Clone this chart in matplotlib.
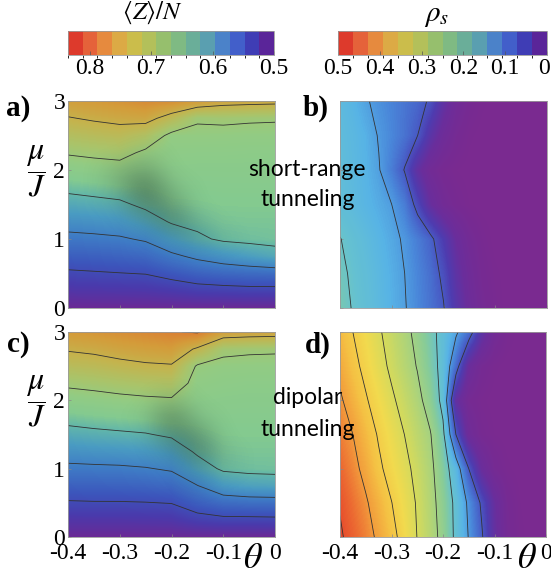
import numpy as np
import matplotlib
matplotlib.use("Agg")
import matplotlib.pyplot as plt
import matplotlib.transforms as mtransforms
from matplotlib.colors import ListedColormap, LinearSegmentedColormap, BoundaryNorm, Normalize
from matplotlib.cm import ScalarMappable

plt.rcParams["font.family"] = "serif"
plt.rcParams["font.serif"] = ["Liberation Serif", "DejaVu Serif"]
plt.rcParams["mathtext.fontset"] = "stix"
SERIF = ["Liberation Serif", "DejaVu Serif"]

# ---------------- data ----------------
# <Z>/N on a (theta, mu/J) grid, rows = mu/J, columns = theta
theta_z = [-0.4, -0.35, -0.3, -0.25, -0.2, -0.15, -0.1, -0.05, 0.0]
mu_z = [0.0, 0.25, 0.5, 0.75, 1.0, 1.25, 1.5, 1.75, 2.0, 2.25, 2.5, 2.75, 3.0]

z_short = [
    [0.500, 0.500, 0.500, 0.500, 0.500, 0.500, 0.500, 0.500, 0.500],
    [0.523, 0.524, 0.525, 0.526, 0.530, 0.536, 0.538, 0.540, 0.540],
    [0.545, 0.547, 0.549, 0.551, 0.561, 0.571, 0.577, 0.580, 0.582],
    [0.568, 0.570, 0.573, 0.577, 0.593, 0.607, 0.618, 0.627, 0.636],
    [0.591, 0.593, 0.596, 0.604, 0.626, 0.644, 0.655, 0.658, 0.660],
    [0.613, 0.616, 0.620, 0.634, 0.653, 0.658, 0.663, 0.664, 0.664],
    [0.636, 0.640, 0.644, 0.657, 0.665, 0.666, 0.668, 0.668, 0.668],
    [0.658, 0.662, 0.666, 0.668, 0.672, 0.672, 0.673, 0.673, 0.673],
    [0.680, 0.684, 0.687, 0.680, 0.678, 0.677, 0.677, 0.677, 0.677],
    [0.703, 0.707, 0.710, 0.694, 0.684, 0.683, 0.683, 0.682, 0.682],
    [0.725, 0.730, 0.734, 0.722, 0.692, 0.692, 0.691, 0.690, 0.690],
    [0.748, 0.754, 0.759, 0.762, 0.735, 0.704, 0.706, 0.704, 0.703],
    [0.771, 0.776, 0.782, 0.790, 0.788, 0.776, 0.765, 0.762, 0.760],
]

z_dipolar = [
    [0.500, 0.500, 0.500, 0.500, 0.500, 0.500, 0.500, 0.500, 0.500],
    [0.524, 0.524, 0.524, 0.525, 0.526, 0.537, 0.542, 0.542, 0.543],
    [0.547, 0.548, 0.548, 0.549, 0.551, 0.569, 0.581, 0.584, 0.585],
    [0.570, 0.571, 0.572, 0.574, 0.578, 0.599, 0.623, 0.630, 0.632],
    [0.593, 0.594, 0.595, 0.598, 0.604, 0.634, 0.655, 0.658, 0.659],
    [0.615, 0.618, 0.620, 0.623, 0.630, 0.655, 0.663, 0.664, 0.664],
    [0.638, 0.642, 0.645, 0.648, 0.655, 0.664, 0.668, 0.668, 0.668],
    [0.661, 0.665, 0.668, 0.671, 0.675, 0.672, 0.673, 0.673, 0.673],
    [0.684, 0.687, 0.691, 0.694, 0.696, 0.680, 0.678, 0.677, 0.677],
    [0.706, 0.710, 0.715, 0.719, 0.721, 0.688, 0.684, 0.682, 0.682],
    [0.730, 0.734, 0.740, 0.745, 0.747, 0.696, 0.691, 0.690, 0.690],
    [0.753, 0.757, 0.764, 0.769, 0.773, 0.745, 0.708, 0.705, 0.704],
    [0.776, 0.781, 0.787, 0.792, 0.798, 0.803, 0.772, 0.768, 0.766],
]

# dark rendering shade along the plateau edge of the <Z>/N maps (opacity, same grid)
shade_short = [
    [0, 0, 0, 0, 0, 0, 0, 0, 0],
    [0, 0, 0, 0, 0, 0, 0, 0, 0],
    [0, 0, 0, 0, 0, 0, 0, 0, 0],
    [0, 0, 0, 0, 0, 0, 0, 0, 0],
    [0, 0, 0, 0, 0.05, 0.12, 0.04, 0, 0],
    [0, 0, 0, 0.08, 0.30, 0.08, 0, 0, 0],
    [0, 0, 0.04, 0.32, 0.22, 0, 0, 0, 0],
    [0, 0, 0.12, 0.40, 0.08, 0, 0, 0, 0],
    [0, 0, 0.12, 0.20, 0, 0, 0, 0, 0],
    [0, 0, 0, 0.04, 0, 0, 0, 0, 0],
    [0, 0, 0, 0, 0, 0, 0, 0, 0],
    [0, 0, 0, 0, 0, 0, 0, 0, 0],
    [0, 0, 0, 0, 0, 0, 0, 0, 0],
]

shade_dipolar = [
    [0, 0, 0, 0, 0, 0, 0, 0, 0],
    [0, 0, 0, 0, 0, 0, 0, 0, 0],
    [0, 0, 0, 0, 0, 0, 0, 0, 0],
    [0, 0, 0, 0, 0, 0.04, 0, 0, 0],
    [0, 0, 0, 0, 0, 0.12, 0.05, 0, 0],
    [0, 0, 0, 0, 0.10, 0.32, 0.05, 0, 0],
    [0, 0, 0, 0, 0.28, 0.25, 0, 0, 0],
    [0, 0, 0, 0.03, 0.32, 0.06, 0, 0, 0],
    [0, 0, 0, 0, 0.12, 0, 0, 0, 0],
    [0, 0, 0, 0, 0, 0, 0, 0, 0],
    [0, 0, 0, 0, 0, 0, 0, 0, 0],
    [0, 0, 0, 0, 0, 0, 0, 0, 0],
    [0, 0, 0, 0, 0, 0, 0, 0, 0],
]

# superfluid density rho_s, rows = mu/J, columns = theta
theta_r = [-0.4, -0.375, -0.35, -0.325, -0.3, -0.275, -0.25, -0.225, -0.2,
           -0.175, -0.15, -0.125, -0.1, -0.075, -0.05, -0.025, 0.0]
mu_r = [0.0, 0.5, 1.0, 1.5, 2.0, 2.5, 3.0]

rho_short = [
    [0.212, 0.198, 0.188, 0.176, 0.164, 0.152, 0.136, 0.120, 0.102, 0.065, 0.035, 0.015, 0.005, 0, 0, 0, 0],
    [0.207, 0.195, 0.185, 0.174, 0.162, 0.150, 0.134, 0.117, 0.092, 0.055, 0.028, 0.010, 0.003, 0, 0, 0, 0],
    [0.201, 0.190, 0.180, 0.169, 0.158, 0.146, 0.128, 0.108, 0.075, 0.040, 0.018, 0.006, 0, 0, 0, 0, 0],
    [0.185, 0.178, 0.169, 0.160, 0.150, 0.128, 0.088, 0.045, 0.020, 0.008, 0.002, 0, 0, 0, 0, 0, 0],
    [0.185, 0.176, 0.166, 0.152, 0.128, 0.098, 0.050, 0.020, 0.007, 0.002, 0, 0, 0, 0, 0, 0, 0],
    [0.182, 0.174, 0.164, 0.148, 0.135, 0.120, 0.100, 0.060, 0.030, 0.012, 0.003, 0, 0, 0, 0, 0, 0],
    [0.178, 0.168, 0.153, 0.142, 0.132, 0.122, 0.112, 0.095, 0.055, 0.025, 0.010, 0.003, 0, 0, 0, 0, 0],
]

rho_dipolar = [
    [0.455, 0.436, 0.416, 0.392, 0.364, 0.333, 0.299, 0.270, 0.236, 0.191, 0.148, 0.105, 0.050, 0.015, 0.003, 0, 0],
    [0.447, 0.426, 0.405, 0.379, 0.351, 0.324, 0.296, 0.266, 0.231, 0.190, 0.142, 0.094, 0.045, 0.012, 0.002, 0, 0],
    [0.433, 0.412, 0.388, 0.358, 0.334, 0.312, 0.288, 0.261, 0.222, 0.174, 0.100, 0.040, 0.012, 0.003, 0, 0, 0],
    [0.418, 0.400, 0.373, 0.346, 0.323, 0.300, 0.276, 0.253, 0.209, 0.100, 0.030, 0.008, 0.002, 0, 0, 0, 0],
    [0.406, 0.380, 0.354, 0.331, 0.307, 0.285, 0.262, 0.232, 0.188, 0.050, 0.012, 0.003, 0, 0, 0, 0, 0],
    [0.388, 0.362, 0.339, 0.315, 0.292, 0.270, 0.248, 0.219, 0.186, 0.117, 0.040, 0.012, 0.003, 0, 0, 0, 0],
    [0.372, 0.350, 0.328, 0.305, 0.284, 0.262, 0.239, 0.213, 0.186, 0.156, 0.119, 0.060, 0.020, 0.005, 0, 0, 0],
]

z_levels = [0.55, 0.60, 0.65, 0.70, 0.75, 0.80]
rho_levels = [0.10, 0.15, 0.20, 0.25, 0.30, 0.35, 0.40, 0.45]

theta_ticks = [-0.4, -0.3, -0.2, -0.1, 0.0]
theta_ticklabels = ["-0.4", "-0.3", "-0.2", "-0.1", "0"]
mu_ticks = [0, 1, 2, 3]
z_cbar_ticks = [0.8, 0.7, 0.6, 0.5]
z_cbar_ticklabels = ["0.8", "0.7", "0.6", "0.5"]
rho_cbar_ticks = [0.5, 0.4, 0.3, 0.2, 0.1, 0.0]
rho_cbar_ticklabels = ["0.5", "0.4", "0.3", "0.2", "0.1", "0"]

# ---------------- colours ----------------
# legend palette, red (high) -> purple (low)
bar_colors = ["#dd3a2c", "#e5623a", "#e68a3e", "#dcaa45", "#cbbd4b", "#b3c05a", "#96bf6d",
              "#7fba83", "#6aae99", "#5a9fb0", "#4b82c9", "#425fca", "#3f3db5", "#5a2599"]
bar_cmap = ListedColormap(bar_colors[::-1])

z_lo, z_hi = 0.5, 0.835
r_lo, r_hi = 0.0, 0.5

# shading used for the <Z>/N maps (value, colour)
z_stops = [(0.500, "#6a2a96"), (0.530, "#4a3aac"), (0.560, "#3c56bc"), (0.595, "#3f7cc6"),
           (0.625, "#4a9cc2"), (0.650, "#62b6aa"), (0.668, "#84ca90"), (0.690, "#92cc84"),
           (0.715, "#aac46a"), (0.745, "#c4b44e"), (0.775, "#d49c3a"), (0.805, "#dc7a32"),
           (0.835, "#de4a2c")]
# shading used for the rho_s maps (value, colour)
r_stops = [(0.000, "#7a2a90"), (0.040, "#6a2e9c"), (0.075, "#4e3cb0"), (0.105, "#4860c8"),
           (0.135, "#4a88da"), (0.165, "#58b4e6"), (0.195, "#66c2d0"), (0.225, "#88cc98"),
           (0.260, "#aed47a"), (0.295, "#d2da5e"), (0.330, "#f2da4e"), (0.365, "#f5c244"),
           (0.400, "#f29c3c"), (0.430, "#ec6a32"), (0.455, "#e6482c"), (0.500, "#e03a2a")]


def stops_cmap(name, stops, lo, hi):
    return LinearSegmentedColormap.from_list(
        name, [((v - lo) / (hi - lo), c) for v, c in stops])


z_cmap = stops_cmap("zmap", z_stops, z_lo, z_hi)
r_cmap = stops_cmap("rmap", r_stops, r_lo, r_hi)
shade_cmap = LinearSegmentedColormap.from_list("shade", [(0, 0, 0, 0), (0.05, 0.08, 0.05, 1)])

# ---------------- layout ----------------
W, H = 551, 577
fig = plt.figure(figsize=(W / 100, H / 100), dpi=100)


def box(x0, y0, x1, y1):
    return [x0 / W, 1 - y1 / H, (x1 - x0) / W, (y1 - y0) / H]


ax_a = fig.add_axes(box(68, 101, 275, 308))
ax_b = fig.add_axes(box(340, 101, 547, 308))
ax_c = fig.add_axes(box(68, 332, 275, 537))
ax_d = fig.add_axes(box(340, 332, 546, 537))
cax_z = fig.add_axes(box(68, 31, 274, 55))
cax_r = fig.add_axes(box(338, 31, 547, 55))


def style_labels(ax, size):
    for t in ax.get_xticklabels() + ax.get_yticklabels():
        t.set_fontfamily(SERIF)
        t.set_fontsize(size)


def grid_extent(th, mu):
    dth = th[1] - th[0]
    dmu = mu[1] - mu[0]
    return [th[0] - dth / 2, th[-1] + dth / 2, mu[0] - dmu / 2, mu[-1] + dmu / 2]


def draw_field(ax, th, mu, field, cmap, norm, levels, shade=None):
    th = np.asarray(th, float)
    mu = np.asarray(mu, float)
    F = np.asarray(field, float)
    ext = grid_extent(th, mu)
    ax.imshow(F, origin="lower", cmap=cmap, norm=norm, interpolation="bilinear",
              extent=ext, aspect="auto")
    if shade is not None:
        ax.imshow(np.asarray(shade, float), origin="lower", cmap=shade_cmap,
                  norm=Normalize(0, 1), interpolation="bicubic", extent=ext, aspect="auto")
    ax.contour(th, mu, F, levels=levels, colors="#333333", linewidths=0.6)
    ax.set_xlim(-0.4, 0.0)
    ax.set_ylim(0, 3)
    for s in ax.spines.values():
        s.set_color("#9a9a9a")
        s.set_linewidth(0.6)
    ax.tick_params(direction="in", length=2, width=0.5, color="#888888", pad=3)
    ax.set_xticks(theta_ticks)
    ax.set_yticks(mu_ticks)


znorm = Normalize(z_lo, z_hi)
rnorm = Normalize(r_lo, r_hi)
draw_field(ax_a, theta_z, mu_z, z_short, z_cmap, znorm, z_levels, shade_short)
draw_field(ax_c, theta_z, mu_z, z_dipolar, z_cmap, znorm, z_levels, shade_dipolar)
draw_field(ax_b, theta_r, mu_r, rho_short, r_cmap, rnorm, rho_levels)
draw_field(ax_d, theta_r, mu_r, rho_dipolar, r_cmap, rnorm, rho_levels)

for ax in (ax_a, ax_b):
    ax.set_xticklabels([])
for ax in (ax_b, ax_d):
    ax.set_yticklabels([])
for ax in (ax_c, ax_d):
    ax.set_xticklabels(theta_ticklabels)
    ax.tick_params(axis="x", pad=4)
for ax in (ax_a, ax_c):
    ax.set_yticklabels([str(t) for t in mu_ticks])
    ax.tick_params(axis="y", pad=2)
for ax in (ax_a, ax_b, ax_c, ax_d):
    style_labels(ax, 17)

# ---------------- colour legends ----------------
def draw_bar(cax, lo, hi, ticks, labels):
    bounds = np.linspace(lo, hi, len(bar_colors) + 1)
    sm = ScalarMappable(norm=BoundaryNorm(bounds, len(bar_colors)), cmap=bar_cmap)
    cb = fig.colorbar(sm, cax=cax, orientation="horizontal")
    cax.invert_xaxis()
    cb.set_ticks(ticks)
    cb.set_ticklabels(labels)
    cb.outline.set_edgecolor("#9a9a9a")
    cb.outline.set_linewidth(0.6)
    cax.tick_params(direction="in", length=3, width=0.5, color="#555555", pad=2)
    style_labels(cax, 17)
    return cb


draw_bar(cax_z, z_lo, z_hi, z_cbar_ticks, z_cbar_ticklabels)
draw_bar(cax_r, r_lo, r_hi, rho_cbar_ticks, rho_cbar_ticklabels)
# keep the final "0" inside the canvas
last = cax_r.get_xticklabels()[-1]
last.set_transform(last.get_transform() +
                   mtransforms.ScaledTranslation(-3 / 100, 0, fig.dpi_scale_trans))

fig.text(153 / W, 1 - 13 / H, r"$\langle Z\rangle/N$", ha="center", va="center", fontsize=18)
fig.text(437 / W, 1 - 16 / H, r"$\rho_s$", ha="center", va="center", fontsize=21)

# ---------------- annotations ----------------
for lbl, x, y in [("a)", 6, 108), ("b)", 303, 108), ("c)", 7, 345), ("d)", 305, 345)]:
    fig.text(x / W, 1 - y / H, lbl, fontsize=21, fontweight="bold", ha="left", va="center",
             family=SERIF)

for y in (171, 401):
    fig.text(36 / W, 1 - y / H, r"$\dfrac{\mu}{J}$", fontsize=23, ha="center", va="center")

for x in (253, 527):
    fig.text(x / W, 1 - 559 / H, r"$\theta$", fontsize=26, ha="center", va="center")

SANS = ["Lato", "DejaVu Sans"]
for txt, x, y in [("short-range", 307, 170), ("tunneling", 308, 200),
                  ("dipolar", 308, 398), ("tunneling", 308, 429)]:
    fig.text(x / W, 1 - y / H, txt, family=SANS, fontsize=16.5, ha="center", va="center",
             zorder=10)

fig.savefig("out.png", dpi=100)
